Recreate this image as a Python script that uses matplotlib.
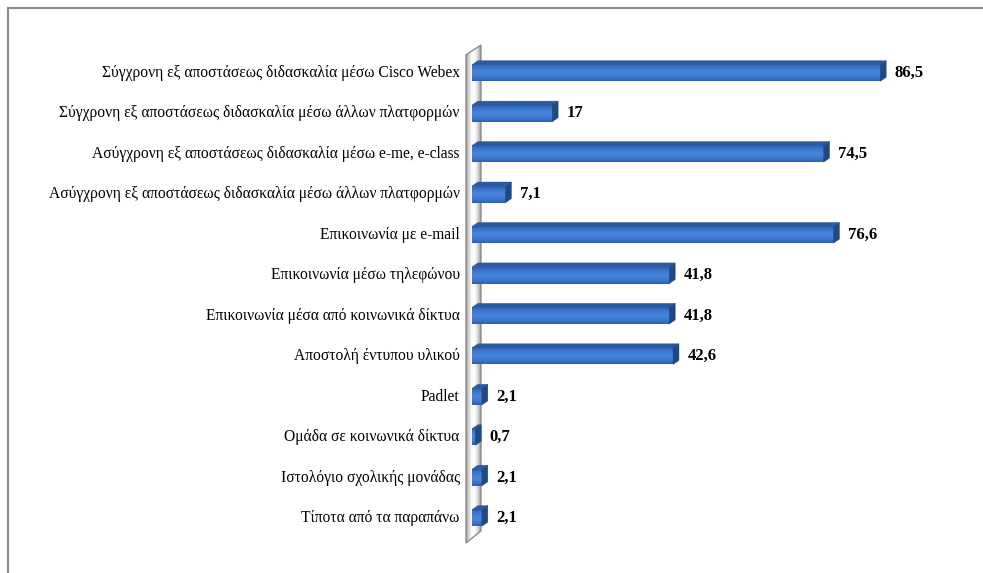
import matplotlib.pyplot as plt
from matplotlib.patches import Polygon
from matplotlib.lines import Line2D
import numpy as np

# Data
categories = [
    'Σύγχρονη εξ αποστάσεως διδασκαλία μέσω Cisco Webex',
    'Σύγχρονη εξ αποστάσεως διδασκαλία μέσω άλλων πλατφορμών',
    'Ασύγχρονη εξ αποστάσεως διδασκαλία μέσω e-me, e-class',
    'Ασύγχρονη εξ αποστάσεως διδασκαλία μέσω άλλων πλατφορμών',
    'Επικοινωνία με e-mail',
    'Επικοινωνία μέσω τηλεφώνου',
    'Επικοινωνία μέσα από κοινωνικά δίκτυα',
    'Αποστολή έντυπου υλικού',
    'Padlet',
    'Ομάδα σε κοινωνικά δίκτυα',
    'Ιστολόγιο σχολικής μονάδας',
    'Τίποτα από τα παραπάνω',
]
values = [86.5, 17, 74.5, 7.1, 76.6, 41.8, 41.8, 42.6, 2.1, 0.7, 2.1, 2.1]

plt.rcParams['font.family'] = ['Liberation Serif', 'DejaVu Serif']

W, H = 983, 573
fig = plt.figure(figsize=(W / 100, H / 100), dpi=100)

# pixel geometry of the plot area
x0_px, px_per_unit = 472, 4.72
row0_px, row_step = 73, 40.45
xmin, xmax = -2, 100
ymin, ymax = -0.8, 11.8
left = x0_px + xmin * px_per_unit
right = x0_px + xmax * px_per_unit
top = row0_px + ymin * row_step
bottom = row0_px + ymax * row_step
ax = fig.add_axes([left / W, 1 - bottom / H, (right - left) / W, (bottom - top) / H])
ax.set_xlim(xmin, xmax)
ax.set_ylim(ymax, ymin)
ax.axis('off')

# back wall (grey, slanted)
wall = [(-1.27, -0.45), (1.9, -0.69), (1.9, 11.32), (-1.27, 11.62)]
grad = np.linspace(0, 1, 64)
shade = np.clip(0.6 + 0.4 * np.sin(np.pi * grad), 0, 1)
wall_img = np.dstack([shade] * 3)
im = ax.imshow(wall_img, extent=(-1.27, 1.9, 11.62, -0.69), aspect='auto', zorder=1,
               interpolation='bilinear')
wp = Polygon(wall, closed=True, facecolor='none', edgecolor='#8c8c8c', lw=1.0, zorder=2)
ax.add_patch(wp)
im.set_clip_path(wp)

# 3D bars
h = 0.41
dx, dy = 1.25, 0.1
g = np.linspace(0, 1, 32)
front = np.sin(np.pi * (g * 0.9 + 0.05))
c_dark = np.array([0.16, 0.35, 0.68])
c_light = np.array([0.27, 0.51, 0.85])
bar_img = (c_dark[None, :] + (c_light - c_dark)[None, :] * front[:, None])[:, None, :]

for i, v in enumerate(values):
    yt, yb = i - h / 2, i + h / 2
    ax.imshow(bar_img, extent=(0, v, yb, yt), aspect='auto', zorder=3, interpolation='bilinear')
    ax.add_patch(Polygon([(0, yt), (v, yt), (v + dx, yt - dy), (dx, yt - dy)],
                         closed=True, facecolor='#2c5a9f', edgecolor='#2c5a9f', lw=0.3, zorder=4))
    ax.add_patch(Polygon([(v, yt), (v + dx, yt - dy), (v + dx, yb - dy), (v, yb)],
                         closed=True, facecolor='#224880', edgecolor='#224880', lw=0.3, zorder=4))
    ax.annotate(str(v).replace('.', ','), xy=(v + dx, i), xytext=(6, 0),
                textcoords='offset points', ha='left', va='center',
                fontsize=12, fontweight='bold', color='black')
    ax.text(-2.6, i, categories[i], ha='right', va='center', fontsize=11.2, color='black')

ax.set_xlim(xmin, xmax)
ax.set_ylim(ymax, ymin)

# outer frame (top and left only)
fig.add_artist(Line2D([8 / W, 1], [1 - 8 / H, 1 - 8 / H], color='#8a8a8a', lw=1.5))
fig.add_artist(Line2D([8 / W, 8 / W], [0, 1 - 8 / H], color='#8a8a8a', lw=1.5))

fig.savefig('out.png', dpi=100)
